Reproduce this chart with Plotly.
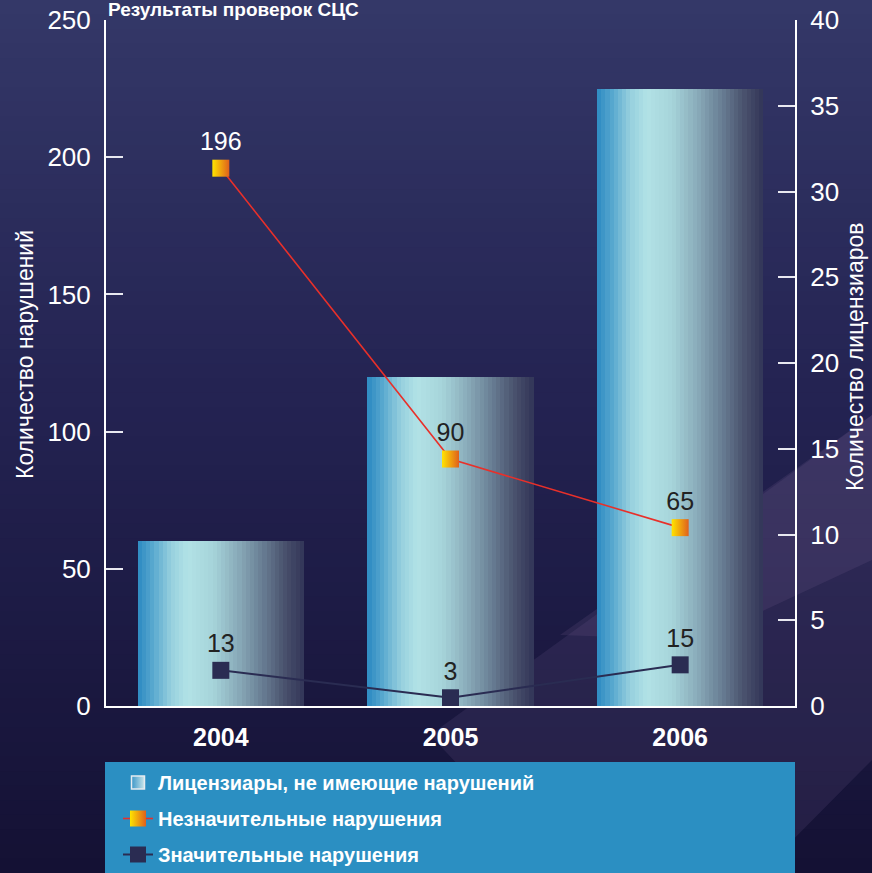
import plotly.graph_objects as go

# ---------------- data ----------------
years = ["2004", "2005", "2006"]
licensees_clean = [9.6, 19.2, 36]          # right axis: number of licensees without violations
minor_violations = [196, 90, 65]           # left axis
major_violations = [13, 3, 15]             # left axis

title_text = "Результаты проверок СЦС"
left_title = "Количество нарушений"
right_title = "Количество лицензиаров"
name_bars = "Лицензиары, не имеющие нарушений"
name_minor = "Незначительные нарушения"
name_major = "Значительные нарушения"

# ---------------- geometry helpers ----------------
W, H = 872, 873
ML, MR, MT, MB = 106, 77, 20, 167
PW = W - ML - MR
PH = H - MT - MB


def px_x(p):
    return (p - ML) / PW


def px_y(p):
    return (H - MB - p) / PH


def lerp(c1, c2, t):
    return tuple(int(round(a + (b - a) * t)) for a, b in zip(c1, c2))


def grad(stops, t):
    for (t0, c0), (t1, c1) in zip(stops, stops[1:]):
        if t <= t1:
            return lerp(c0, c1, (t - t0) / (t1 - t0) if t1 > t0 else 0)
    return stops[-1][1]


def rgb(c, a=None):
    if a is None:
        return "rgb(%d,%d,%d)" % c
    return "rgba(%d,%d,%d,%.3f)" % (c[0], c[1], c[2], a)


SANS = "Liberation Sans, Arial, Helvetica, sans-serif"

fig = go.Figure()

# ---------------- bars with horizontal gradient (overlaid slices) ----------------
bar_stops = [
    (0.0, (44, 138, 194)), (0.08, (82, 164, 205)), (0.2, (150, 208, 222)),
    (0.3, (178, 226, 230)), (0.45, (166, 212, 218)), (0.6, (138, 172, 186)),
    (0.75, (104, 125, 147)), (0.9, (70, 77, 105)), (1.0, (50, 53, 88)),
]
BW = 0.723
N = 40
for i in range(N):
    start = -BW / 2 + i * BW / N
    fig.add_trace(go.Bar(
        x=years, y=licensees_clean,
        width=[BW - i * BW / N] * len(years),
        offset=[start] * len(years),
        marker=dict(color=rgb(grad(bar_stops, (i + 0.5) / N)), line=dict(width=0)),
        showlegend=False, hoverinfo="skip", yaxis="y",
    ))

# legend entry for the bars
fig.add_trace(go.Scatter(
    x=[None], y=[None], mode="markers", name=name_bars, yaxis="y",
    marker=dict(symbol="square", size=13, color="rgb(60,150,200)",
                gradient=dict(type="horizontal", color="rgb(200,230,235)"),
                line=dict(color="rgb(230,235,240)", width=1.5)),
    legendgroup="a",
))

# ---------------- lines ----------------
fig.add_trace(go.Scatter(
    x=years, y=minor_violations, yaxis="y2", name=name_minor,
    mode="lines+markers+text",
    line=dict(color="#e8302a", width=1.6),
    marker=dict(symbol="square", size=17, color="#ffe400",
                gradient=dict(type="horizontal", color="#e0601c"),
                line=dict(width=0)),
    text=[str(v) for v in minor_violations], textposition="top center",
    textfont=dict(family=SANS, size=25, color=["#ffffff", "#222222", "#222222"]),
    legendgroup="b", hoverinfo="skip",
))
fig.add_trace(go.Scatter(
    x=years, y=major_violations, yaxis="y2", name=name_major,
    mode="lines+markers+text",
    line=dict(color="#2a2c52", width=2),
    marker=dict(symbol="square", size=17, color="#2a2c52", line=dict(width=0)),
    text=[str(v) for v in major_violations], textposition="top center",
    textfont=dict(family=SANS, size=25, color="#222222"),
    legendgroup="c", hoverinfo="skip",
))

# ---------------- background shapes ----------------
shapes = []
bg_stops = [(0.0, (52, 56, 104)), (0.45, (36, 35, 82)), (1.0, (20, 17, 52))]
NB = 60
for i in range(NB):
    y0p = H * i / NB
    y1p = H * (i + 1) / NB + 1
    shapes.append(dict(type="rect", xref="paper", yref="paper", layer="below",
                       x0=px_x(0), x1=px_x(W), y0=px_y(y1p), y1=px_y(y0p),
                       fillcolor=rgb(grad(bg_stops, (i + 0.5) / NB)), line=dict(width=0)))


def poly(points):
    return "M " + " L ".join("%.4f,%.4f" % (px_x(a), px_y(b)) for a, b in points) + " Z"


# lighter diagonal wedge at lower right
shapes.append(dict(type="path", xref="paper", yref="paper", layer="below",
                   path=poly([(430, 735), (872, 415), (872, 760), (760, 873), (560, 873)]),
                   fillcolor="rgba(120,100,150,0.16)", line=dict(width=0)))
shapes.append(dict(type="path", xref="paper", yref="paper", layer="below",
                   path=poly([(560, 635), (872, 415), (872, 560), (700, 640)]),
                   fillcolor="rgba(140,115,160,0.14)", line=dict(width=0)))

# legend panel
shapes.append(dict(type="rect", xref="paper", yref="paper", layer="below",
                   x0=px_x(105), x1=px_x(795), y0=px_y(880), y1=px_y(762),
                   fillcolor="#2b8fc2", line=dict(width=0)))

annotations = [
    dict(text="<b>" + title_text + "</b>", xref="paper", yref="paper",
         x=px_x(106), y=px_y(-3), xanchor="left", yanchor="top", showarrow=False,
         font=dict(family=SANS, size=19, color="white")),
    dict(text=left_title, xref="paper", yref="paper", x=px_x(25), y=px_y(355),
         xanchor="center", yanchor="middle", textangle=-90, showarrow=False,
         font=dict(family=SANS, size=23, color="white")),
    dict(text=right_title, xref="paper", yref="paper", x=px_x(855), y=px_y(357),
         xanchor="center", yanchor="middle", textangle=-90, showarrow=False,
         font=dict(family=SANS, size=23, color="white")),
]

axis_common = dict(showgrid=False, zeroline=False, showline=True, linecolor="white",
                   linewidth=2, ticks="inside", ticklen=17, tickwidth=2, tickcolor="#e8e8f0",
                   tickfont=dict(family=SANS, size=26, color="white"), fixedrange=True)

fig.update_layout(
    width=W, height=H, autosize=False,
    margin=dict(l=ML, r=MR, t=MT, b=MB, pad=0, autoexpand=False),
    paper_bgcolor="rgba(0,0,0,0)", plot_bgcolor="rgba(0,0,0,0)",
    barmode="overlay", bargap=0,
    xaxis=dict(type="category", range=[-0.5, 2.5], showgrid=False, zeroline=False,
               showline=True, linecolor="white", linewidth=2, ticks="",
               tickfont=dict(family=SANS, size=25, color="white", weight="bold"),
               ticklabelstandoff=8, fixedrange=True),
    yaxis=dict(side="right", range=[0, 40], dtick=5, ticklabelstandoff=8, **axis_common),
    yaxis2=dict(side="left", overlaying="y", range=[0, 250], dtick=50,
                ticklabelstandoff=8, **axis_common),
    legend=dict(x=px_x(118), y=px_y(763), xanchor="left", yanchor="top",
                bgcolor="rgba(0,0,0,0)", borderwidth=0, traceorder="grouped",
                font=dict(family=SANS, size=20, color="white", weight="bold"),
                tracegroupgap=7, itemclick=False, itemdoubleclick=False),
    shapes=shapes, annotations=annotations,
    showlegend=True,
)

fig.write_html("out.html", config={"displayModeBar": False},
               post_script="document.body.style.margin='0';document.body.style.overflow='hidden';")
